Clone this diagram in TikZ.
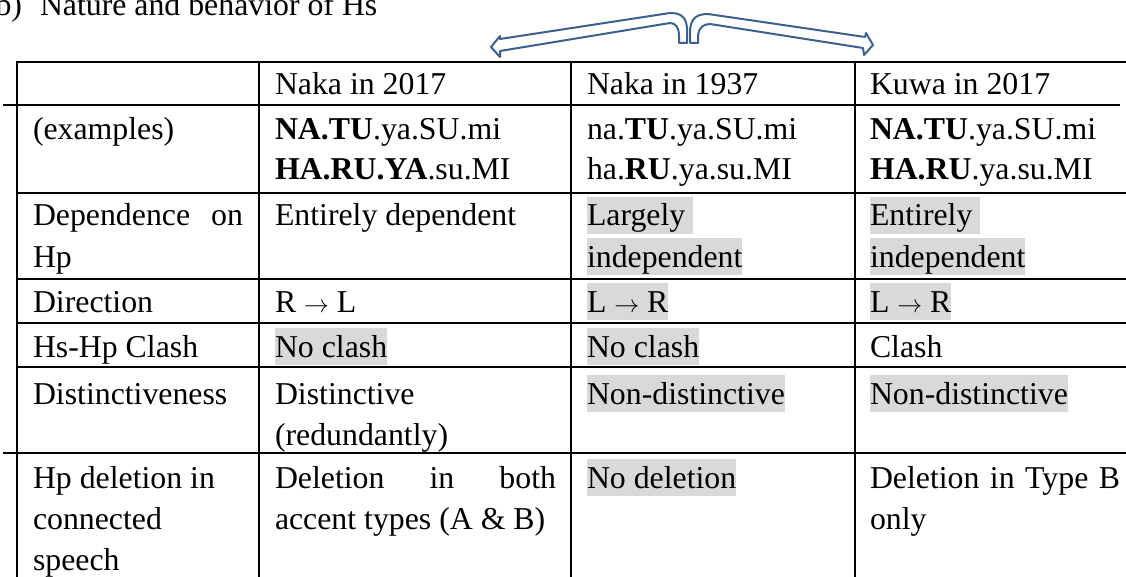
\documentclass[tikz,border=0pt]{standalone}
\usepackage{fontspec}
\setmainfont{Liberation Serif}
\definecolor{hlgray}{RGB}{217,217,217}
\definecolor{arrowblue}{RGB}{60,96,143}
\newcommand\hlbox[1]{{\setlength{\fboxsep}{0pt}\colorbox{hlgray}{\rule[-0.25em]{0pt}{1.15em}#1}}}
\newcommand\rarr{$\rightarrow$}
\begin{document}
\begin{tikzpicture}[x=1pt,y=-1pt,
  every node/.style={inner sep=0pt, outer sep=0pt, anchor=base west, font=\fontsize{31.8}{41}\selectfont},
  rule/.style={line width=1.8pt, draw=black},
  arm/.style={draw=arrowblue, line width=2pt, line join=round}]
\useasboundingbox (0,0) rectangle (1126,577);
% title
\node (tb) at (-4.5,16) {b)};
\node (tt) at (40,16) {Nature and behavior of Hs};
% arrow
\draw[arm] (687,43) -- (687,28) .. controls (686,17) and (681,13) .. (670,13) -- (500,39) -- (500,36) -- (491,47) -- (500,57) -- (500,51) -- (670,23) .. controls (676,23) and (679,28) .. (679,36) -- (679,43) -- cycle;
\draw[arm] (690,43) -- (690,30) .. controls (691,18) and (697,14) .. (708,14) -- (865,37) -- (866,33) -- (873,45) -- (864,55) -- (863,48) -- (710,24) .. controls (703,24) and (699,28) .. (698,35) -- (698,43) -- cycle;
% header
\node (h2) at (275,95) {Naka in 2017};
\node (h3) at (587,95) {Naka in 1937};
\node (h4) at (870,95) {Kuwa in 2017};
% examples
\node (e1) at (33,140) {(examples)};
\node (e2a) at (275,140) {\textbf{NA.TU}.ya.SU.mi};
\node (e2b) at (275,180) {\textbf{HA.RU.YA}.su.MI};
\node (e3a) at (587,140) {na.\textbf{TU}.ya.SU.mi};
\node (e3b) at (587,180) {ha.\textbf{RU}.ya.su.MI};
\node (e4a) at (870,140) {\textbf{NA.TU}.ya.SU.mi};
\node (e4b) at (870,180) {\textbf{HA.RU}.ya.su.MI};
% dependence
\node (d1a) at (33,226) {\makebox[210pt][s]{Dependence on}};
\node (d1b) at (33,267) {Hp};
\node (d2) at (275,226) {Entirely dependent};
\node (d3a) at (587,226) {\hlbox{Largely\ }};
\node (d3b) at (587,267) {\hlbox{independent}};
\node (d4a) at (870,226) {\hlbox{Entirely\ }};
\node (d4b) at (870,267) {\hlbox{independent}};
% direction
\node (r1) at (33,312) {Direction};
\node (r2) at (275,312) {R \rarr\ L};
\node (r3) at (587,312) {\hlbox{L \rarr\ R}};
\node (r4) at (870,312) {\hlbox{L \rarr\ R}};
% clash
\node (c1) at (33,357) {Hs-Hp Clash};
\node (c2) at (275,357) {\hlbox{No clash}};
\node (c3) at (587,357) {\hlbox{No clash}};
\node (c4) at (870,357) {Clash};
% distinctiveness
\node (s1) at (33,404) {Distinctiveness};
\node (s2a) at (275,404) {Distinctive};
\node (s2b) at (275,445) {(redundantly)};
\node (s3) at (587,404) {\hlbox{Non-distinctive}};
\node (s4) at (870,404) {\hlbox{Non-distinctive}};
% deletion
\node (x1a) at (33,488) {Hp deletion in};
\node (x1b) at (33,529) {connected};
\node (x1c) at (33,570) {speech};
\node (x2a) at (275,488) {\makebox[281pt][s]{Deletion in both}};
\node (x2b) at (275,529) {accent types (A \& B)};
\node (x3) at (587,488) {\hlbox{No deletion}};
\node (x4a) at (870,488) {\makebox[250pt][s]{Deletion in Type B}};
\node (x4b) at (870,529) {only};
% rules
\draw[rule] (17,62) -- (1130,62);
\draw[rule] (3,105) -- (1120,105);
\draw[rule] (17,193) -- (1130,193);
\draw[rule] (17,279) -- (1130,279);
\draw[rule] (17,323) -- (1130,323);
\draw[rule] (17,367) -- (1130,367);
\draw[rule] (3,453) -- (1130,453);
\foreach \x in {17,259,571,855} \draw[rule] (\x,61.1) -- (\x,580);
\end{tikzpicture}
\end{document}
